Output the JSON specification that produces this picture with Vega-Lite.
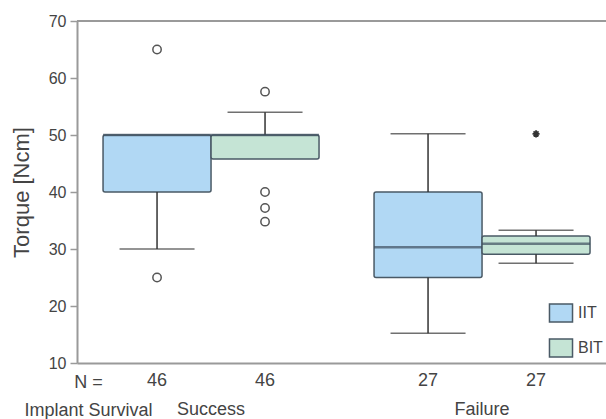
{
  "$schema": "https://vega.github.io/schema/vega-lite/v6.json",
  "width": 529,
  "height": 342,
  "autosize": {"type": "none"},
  "padding": {"left": 77, "top": 21, "right": 0, "bottom": 56},
  "background": "white",
  "config": {
    "view": {"stroke": null},
    "font": "Liberation Sans",
    "axis": {
      "grid": false,
      "domainColor": "#9a9a9a",
      "domainWidth": 2,
      "labelColor": "#444444",
      "titleColor": "#444444",
      "titleFontWeight": "normal"
    },
    "axisX": {
      "ticks": false,
      "tickSize": 0,
      "labelAngle": 0,
      "labelPadding": 46,
      "labelBaseline": "middle",
      "labelFontSize": 18,
      "titleFontSize": 18,
      "titleX": 11,
      "titleY": 24,
      "titleAlign": "center",
      "titleBaseline": "alphabetic",
      "titleLineHeight": 28,
      "titleAngle": 0
    },
    "axisY": {
      "tickSize": 7,
      "tickWidth": 1.5,
      "tickColor": "#9a9a9a",
      "labelFontSize": 16,
      "labelPadding": 4,
      "titleFontSize": 22,
      "titleX": -56,
      "titleY": 171,
      "titleAngle": 270,
      "titleAlign": "center",
      "titleBaseline": "middle"
    }
  },
  "datasets": {
    "boxes": [
      {"group": "Success", "type": "IIT", "n": 46, "lower": 30, "q1": 40, "median": 50, "q3": 50, "upper": 50},
      {"group": "Success", "type": "BIT", "n": 46, "lower": 45.8, "q1": 45.8, "median": 50, "q3": 50, "upper": 54},
      {"group": "Failure", "type": "IIT", "n": 27, "lower": 15.2, "q1": 25, "median": 30.3, "q3": 40, "upper": 50.2},
      {"group": "Failure", "type": "BIT", "n": 27, "lower": 27.5, "q1": 29.1, "median": 30.9, "q3": 32.3, "upper": 33.3}
    ],
    "outliers": [
      {"group": "Success", "type": "IIT", "value": 65, "kind": "outlier"},
      {"group": "Success", "type": "IIT", "value": 25, "kind": "outlier"},
      {"group": "Success", "type": "BIT", "value": 57.6, "kind": "outlier"},
      {"group": "Success", "type": "BIT", "value": 40, "kind": "outlier"},
      {"group": "Success", "type": "BIT", "value": 37.2, "kind": "outlier"},
      {"group": "Success", "type": "BIT", "value": 34.8, "kind": "outlier"},
      {"group": "Failure", "type": "BIT", "value": 50.2, "kind": "extreme"}
    ]
  },
  "data": {"name": "boxes"},
  "layer": [
    {
      "mark": {"type": "bar", "stroke": "#4a5a66", "strokeWidth": 1.5, "cornerRadius": 2, "opacity": 1},
      "encoding": {
        "x": {
          "field": "group",
          "type": "nominal",
          "title": ["N =", "Implant Survival"],
          "scale": {"domain": ["Success", "Failure"], "paddingInner": 0.203, "paddingOuter": 0.0775, "align": 0.62}
        },
        "xOffset": {
          "field": "type",
          "type": "nominal",
          "scale": {"domain": ["IIT", "BIT"], "paddingInner": 0, "paddingOuter": 0}
        },
        "y": {
          "field": "q1",
          "type": "quantitative",
          "title": "Torque [Ncm]",
          "scale": {"domain": [10, 70], "nice": false, "zero": false},
          "axis": {"values": [10, 20, 30, 40, 50, 60, 70]}
        },
        "y2": {"field": "q3"},
        "fill": {
          "field": "type",
          "type": "nominal",
          "scale": {"domain": ["IIT", "BIT"], "range": ["#b1d8f4", "#c5e4d5"]},
          "legend": {
            "orient": "bottom-right",
            "offset": 3,
            "padding": 0,
            "title": null,
            "symbolType": "M-1.28,-1H1.28V1H-1.28Z",
            "symbolSize": 324,
            "symbolStrokeColor": "#4a5a66",
            "symbolStrokeWidth": 1.5,
            "symbolOpacity": 1,
            "labelFontSize": 16,
            "labelColor": "#444444",
            "labelOffset": 7,
            "rowPadding": 11
          }
        }
      }
    },
    {
      "mark": {"type": "rule", "color": "#9a9a9a", "strokeWidth": 2},
      "encoding": {"y": {"datum": 70, "type": "quantitative", "title": "Torque [Ncm]"}}
    },
    {
      "mark": {"type": "rule", "color": "#333333", "strokeWidth": 1.5},
      "encoding": {
        "x": {"field": "group", "type": "nominal"},
        "xOffset": {"field": "type", "type": "nominal"},
        "y": {"field": "q3", "type": "quantitative"},
        "y2": {"field": "upper"}
      }
    },
    {
      "mark": {"type": "rule", "color": "#333333", "strokeWidth": 1.5},
      "encoding": {
        "x": {"field": "group", "type": "nominal"},
        "xOffset": {"field": "type", "type": "nominal"},
        "y": {"field": "lower", "type": "quantitative"},
        "y2": {"field": "q1"}
      }
    },
    {
      "transform": [{"filter": "datum.upper > datum.q3"}],
      "mark": {"type": "tick", "size": 75, "thickness": 1.5, "color": "#333333"},
      "encoding": {
        "x": {"field": "group", "type": "nominal"},
        "xOffset": {"field": "type", "type": "nominal"},
        "y": {"field": "upper", "type": "quantitative"}
      }
    },
    {
      "transform": [{"filter": "datum.lower < datum.q1"}],
      "mark": {"type": "tick", "size": 75, "thickness": 1.5, "color": "#333333"},
      "encoding": {
        "x": {"field": "group", "type": "nominal"},
        "xOffset": {"field": "type", "type": "nominal"},
        "y": {"field": "lower", "type": "quantitative"}
      }
    },
    {
      "mark": {"type": "tick", "size": 108, "thickness": 2.5, "color": "#3d4f5e"},
      "encoding": {
        "x": {"field": "group", "type": "nominal"},
        "xOffset": {"field": "type", "type": "nominal"},
        "y": {"field": "median", "type": "quantitative"}
      }
    },
    {
      "data": {"name": "outliers"},
      "transform": [{"filter": "datum.kind == 'outlier'"}],
      "mark": {"type": "point", "shape": "circle", "size": 70, "filled": false, "stroke": "#555555", "strokeWidth": 1.5, "opacity": 1},
      "encoding": {
        "x": {"field": "group", "type": "nominal"},
        "xOffset": {"field": "type", "type": "nominal"},
        "y": {"field": "value", "type": "quantitative"}
      }
    },
    {
      "data": {"name": "outliers"},
      "transform": [{"filter": "datum.kind == 'extreme'"}],
      "mark": {"type": "point", "shape": "M-1,0H1M0,-1V1M-0.7,-0.7L0.7,0.7M-0.7,0.7L0.7,-0.7", "size": 50, "filled": false, "stroke": "#333333", "strokeWidth": 1.8, "opacity": 1},
      "encoding": {
        "x": {"field": "group", "type": "nominal"},
        "xOffset": {"field": "type", "type": "nominal"},
        "y": {"field": "value", "type": "quantitative"}
      }
    },
    {
      "mark": {"type": "text", "fontSize": 18, "color": "#444444", "baseline": "middle", "align": "center"},
      "encoding": {
        "x": {"field": "group", "type": "nominal"},
        "xOffset": {"field": "type", "type": "nominal"},
        "y": {"datum": 6.84, "type": "quantitative", "title": "Torque [Ncm]"},
        "text": {"field": "n", "type": "quantitative"}
      }
    }
  ]
}
